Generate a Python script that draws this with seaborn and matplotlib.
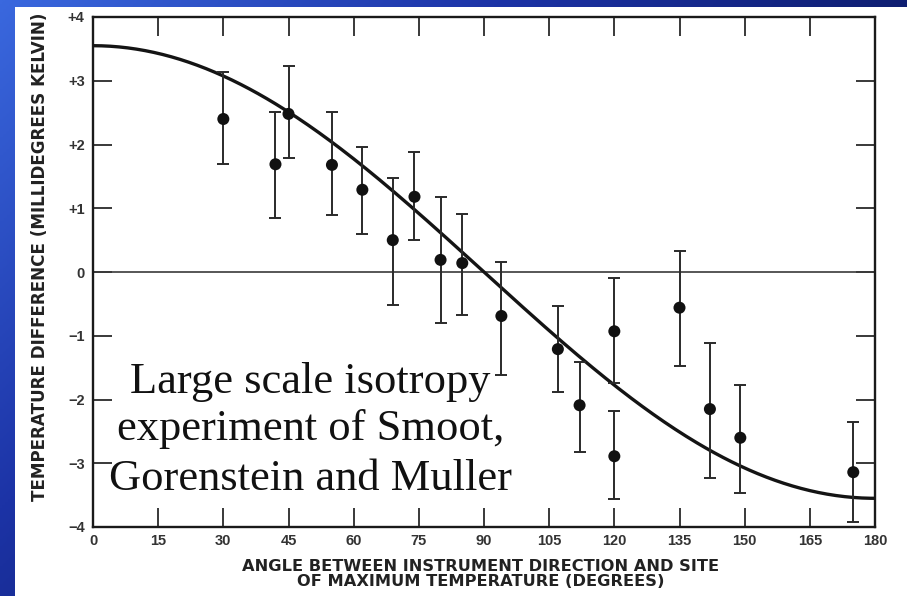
import numpy as np
import pandas as pd
import matplotlib
matplotlib.use("Agg")
import matplotlib.pyplot as plt
import seaborn as sns
from matplotlib.patches import Rectangle
from matplotlib.colors import LinearSegmentedColormap

# ---------------- data ----------------
angle = [30, 42, 45, 55, 62, 69, 74, 80, 85, 94, 107, 112, 120, 120, 135, 142, 149, 175]
temp = [2.40, 1.69, 2.48, 1.68, 1.29, 0.50, 1.18, 0.19, 0.14, -0.69, -1.21, -2.09,
        -0.93, -2.89, -0.56, -2.15, -2.60, -3.14]
err_top = [3.14, 2.51, 3.23, 2.51, 1.96, 1.47, 1.88, 1.18, 0.91, 0.16, -0.53, -1.41,
           -0.09, -2.18, 0.33, -1.11, -1.77, -2.35]
err_bottom = [1.69, 0.85, 1.79, 0.89, 0.60, -0.52, 0.50, -0.80, -0.67, -1.62, -1.88, -2.82,
              -1.74, -3.56, -1.47, -3.23, -3.47, -3.92]

# dipole (cosine) fit drawn in the figure: amplitude read at 0 degrees
dipole_amplitude = 3.55

x_ticks = [0, 15, 30, 45, 60, 75, 90, 105, 120, 135, 150, 165, 180]
y_ticks = [4, 3, 2, 1, 0, -1, -2, -3, -4]
y_tick_labels = ["+4", "+3", "+2", "+1", "0", "\u22121", "\u22122", "\u22123", "\u22124"]

x_label = "ANGLE BETWEEN INSTRUMENT DIRECTION AND SITE\nOF MAXIMUM TEMPERATURE (DEGREES)"
y_label = "TEMPERATURE DIFFERENCE (MILLIDEGREES KELVIN)"
overlay_lines = ["Large scale isotropy", "experiment of Smoot,", "Gorenstein and Muller"]

# ---------------- figure ----------------
sns.set_theme(style="ticks")
plt.rcParams["font.family"] = ["Liberation Sans", "DejaVu Sans"]

W, H = 907, 596
fig = plt.figure(figsize=(W / 100, H / 100), dpi=100)

# blue slide background (gradient) with a white panel on top
bg = fig.add_axes([0, 0, 1, 1], zorder=-10)
gx, gy = np.meshgrid(np.linspace(0, 1, 300), np.linspace(0, 1, 200))
grad = 0.85 * gx + 0.55 * gy
cmap = LinearSegmentedColormap.from_list("slide", ["#3a68de", "#1c33a6", "#0c1a66", "#081048"])
bg.imshow(grad, cmap=cmap, aspect="auto", extent=[0, 1, 0, 1], origin="upper")
bg.set_axis_off()
fig.patches.append(Rectangle((15 / W, 0), 1 - 15 / W, 1 - 7 / H, transform=fig.transFigure,
                             facecolor="white", edgecolor="none", zorder=-5))

ax = fig.add_axes([93 / W, 1 - 527 / H, (875 - 93) / W, (527 - 17) / H], zorder=1)
ax.set_facecolor("white")

curve_angle = np.linspace(0, 180, 361)
df_curve = pd.DataFrame({"angle": curve_angle,
                         "temp": dipole_amplitude * np.cos(np.radians(curve_angle))})
sns.lineplot(data=df_curve, x="angle", y="temp", color="#141414", lw=2.4, ax=ax, zorder=3)

ax.axhline(0, color="#3a3a3a", lw=1.2, zorder=2)

t = np.array(temp)
yerr = [t - np.array(err_bottom), np.array(err_top) - t]
ax.errorbar(angle, temp, yerr=yerr, fmt="none", ecolor="#2a2a2a", elinewidth=1.4,
            capsize=4.5, capthick=1.4, zorder=4)
df_pts = pd.DataFrame({"angle": angle, "temp": temp})
sns.scatterplot(data=df_pts, x="angle", y="temp", color="#111111", s=75,
                edgecolor="none", ax=ax, zorder=5)

ax.set_xlim(0, 180)
ax.set_ylim(-4, 4)
ax.set_xticks(x_ticks)
ax.set_xticklabels([str(v) for v in x_ticks])
ax.set_yticks(y_ticks)
ax.set_yticklabels(y_tick_labels)
ax.tick_params(direction="in", length=14, width=1.3, color="#2a2a2a",
               top=True, right=True, labelsize=10.5, labelcolor="#333333")
ax.tick_params(axis="y", pad=6)
ax.tick_params(axis="x", pad=5)
for lab in ax.get_xticklabels() + ax.get_yticklabels():
    lab.set_fontweight("bold")
for sp in ax.spines.values():
    sp.set_visible(True)
    sp.set_linewidth(1.7)
    sp.set_color("#1a1a1a")
ax.set_xlabel("")
ax.set_ylabel("")
ax.grid(False)

fig.text(481 / W, 1 - 574 / H, x_label, ha="center", va="center", fontsize=11.7,
         fontweight="bold", color="#222222", linespacing=1.0,
         family=["DejaVu Sans"])
fig.text(40 / W, 1 - 257 / H, y_label, ha="center", va="center", rotation=90,
         fontsize=12.1, fontweight="bold", color="#222222", family=["DejaVu Sans"])

for yv, line in zip([-1.90, -2.64, -3.42], overlay_lines):
    ax.text(50, yv, line, ha="center", va="baseline", fontsize=32,
            family=["Liberation Serif", "DejaVu Serif"], color="#111111", zorder=6)

fig.savefig("out.png", dpi=100)
